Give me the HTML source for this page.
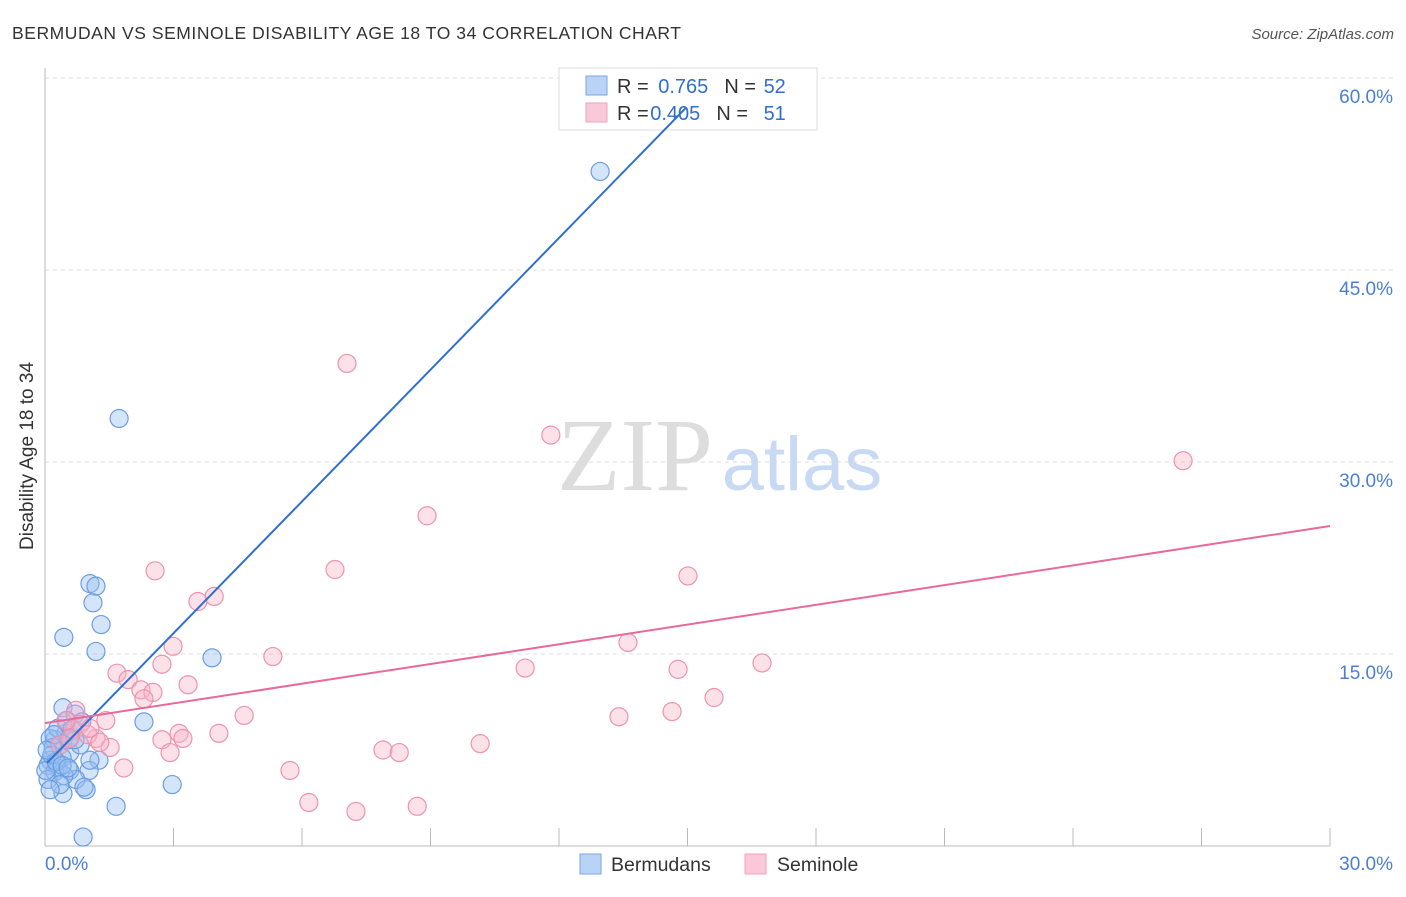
<!DOCTYPE html>
<html><head><meta charset="utf-8"><style>
body{margin:0;background:#fff;font-family:"Liberation Sans",sans-serif}
</style></head><body>
<svg width="1406" height="892" xmlns="http://www.w3.org/2000/svg">
<text x="12" y="39" font-size="17.5" fill="#333" textLength="669">BERMUDAN VS SEMINOLE DISABILITY AGE 18 TO 34 CORRELATION CHART</text>
<text x="1394" y="39" font-size="15" fill="#555" font-style="italic" text-anchor="end">Source: ZipAtlas.com</text>
<text x="635" y="490" font-size="104" fill="#ddd" font-family="Liberation Serif,serif" text-anchor="middle">ZIP</text>
<text x="802" y="490" font-size="76" fill="#c8daf3" text-anchor="middle">atlas</text>
<g id="grid"></g><g id="pts"></g>
<g>
<rect x="559" y="68" width="258" height="62" fill="#fff" stroke="#ddd"/>
<rect x="586" y="76" width="21" height="19" fill="#b8d3f5" stroke="#7aa6e3"/>
<rect x="586" y="103" width="21" height="19" fill="#fac8d8" stroke="#f0a0ba"/>
<text x="617" y="93" font-size="20" fill="#333">R = <tspan fill="#2f6fd0" dx="4">0.765</tspan><tspan fill="#333" dx="16">N = </tspan><tspan fill="#2f6fd0" dx="2">52</tspan></text>
<text x="617" y="120" font-size="20" fill="#333">R = <tspan fill="#2f6fd0" dx="-4">0.405</tspan><tspan fill="#333" dx="16">N = </tspan><tspan fill="#2f6fd0" dx="10">51</tspan></text>
</g>
<g id="lines"></g>
<text transform="translate(33,456) rotate(-90)" font-size="19" fill="#333" text-anchor="middle">Disability Age 18 to 34</text>
<text x="45" y="870" font-size="19" fill="#4a7fd4">0.0%</text>
<text x="1393" y="870" font-size="19" fill="#4a7fd4" text-anchor="end">30.0%</text>
<g>
<rect x="580" y="854" width="21" height="20" fill="#b8d3f5" stroke="#7aa6e3"/>
<text x="611" y="871" font-size="19.5" fill="#333">Bermudans</text>
<rect x="745" y="854" width="21" height="20" fill="#fac8d8" stroke="#f0a0ba"/>
<text x="777" y="871" font-size="19.5" fill="#333">Seminole</text>
</g>
</svg>
<script>
const yTicks=[15,30,45,60];
const yTickLabels=["15.0%","30.0%","45.0%","60.0%"];
const xTicks=[3,6,9,12,15,18,21,24,27,30];
const blueX=[12.96,1.73,1.05,1.19,1.12,1.31,0.44,1.19,3.90,2.31,0.42,0.70,0.51,0.86,0.23,0.12,0.35,0.58,0.12,0.40,0.07,0.30,0.58,0.23,1.26,1.03,0.07,0.72,0.42,0.96,0.91,1.66,2.97,0.89,0.19,0.49,0.30,0.54,0.16,0.02,0.44,0.82,0.26,0.63,0.35,1.05,0.05,0.70,0.40,0.21,0.54,0.12];
const blueY=[52.7,33.4,20.5,20.3,19.0,17.3,16.3,15.2,14.7,9.7,10.8,10.3,9.8,9.7,8.3,8.4,7.9,7.3,6.7,6.9,6.3,6.1,5.9,5.8,6.7,5.9,5.2,5.2,4.1,4.4,4.6,3.1,4.8,0.7,7.7,8.8,9.2,8.3,7.1,5.9,5.5,7.9,6.6,9.1,4.8,6.7,7.5,8.3,6.3,8.7,6.1,4.4];
const pinkX=[7.05,11.81,26.57,8.92,6.77,2.57,15.01,3.95,3.57,13.61,2.99,5.32,2.73,11.21,14.78,16.74,1.68,1.94,2.24,2.52,3.34,2.31,15.62,0.72,4.65,13.40,14.64,1.42,3.13,4.06,3.22,2.73,0.68,1.19,1.52,2.92,7.89,8.27,10.16,1.84,5.72,6.16,7.26,8.69,0.82,1.00,0.49,1.28,0.35,1.05,0.58];
const pinkY=[37.7,32.1,30.1,25.8,21.6,21.5,21.1,19.5,19.1,15.9,15.6,14.8,14.2,13.9,13.8,14.3,13.5,13.0,12.2,12.0,12.6,11.5,11.6,10.6,10.2,10.1,10.5,9.8,8.8,8.8,8.4,8.3,9.1,8.4,7.7,7.3,7.5,7.3,8.0,6.1,5.9,3.4,2.7,3.1,9.5,8.7,9.8,8.1,7.9,9.2,8.4];
const blueLine=[[0.05,6.5],[14.96,57.66]];
const pinkLine=[[0,9.6],[30,25.0]];
const sx=v=>45+v/30*1285, sy=v=>846-v*12.8;
const NS="http://www.w3.org/2000/svg";
function mk(t,a,p){const e=document.createElementNS(NS,t);for(const k in a)e.setAttribute(k,a[k]);p.appendChild(e);return e;}
const grid=document.getElementById('grid');
yTicks.forEach((t,i)=>{
 const l=mk('line',{x1:45,x2:1393,y1:sy(t),y2:sy(t),stroke:'#ddd','stroke-dasharray':'4,4'},grid);
 
 
 const tx=mk('text',{x:1393,y:sy(t)+25,'font-size':19,fill:'#4a7fd4','text-anchor':'end'},grid);
 tx.textContent=yTickLabels[i];
 
 
});
const ya=mk('line',{x1:45,x2:45,y1:68,y2:846,stroke:'#bbb'},grid);


const xa=mk('line',{x1:45,x2:1330,y1:846,y2:846,stroke:'#bbb'},grid);


xTicks.forEach(t=>{const l=mk('line',{x1:sx(t),x2:sx(t),y1:828,y2:846,stroke:'#bbb'},grid);
 
 });
const pts=document.getElementById('pts');
blueX.forEach((x,i)=>{const c=mk('circle',{cx:sx(x),cy:sy(blueY[i]),r:9,fill:'rgba(150,190,240,0.4)',stroke:'#6b9de3','stroke-width':1.2},pts);
 
 });
pinkX.forEach((x,i)=>{const c=mk('circle',{cx:sx(x),cy:sy(pinkY[i]),r:9,fill:'rgba(248,180,200,0.4)',stroke:'#eb93b0','stroke-width':1.2},pts);
 
 });
const lines=document.getElementById('lines');
const bl=mk('line',{x1:sx(blueLine[0][0]),y1:sy(blueLine[0][1]),x2:sx(blueLine[1][0]),y2:sy(blueLine[1][1]),stroke:'#2f6fd0','stroke-width':2},lines);


const pl=mk('line',{x1:sx(pinkLine[0][0]),y1:sy(pinkLine[0][1]),x2:sx(pinkLine[1][0]),y2:sy(pinkLine[1][1]),stroke:'#e8699a','stroke-width':2},lines);


</script>
</body></html>
